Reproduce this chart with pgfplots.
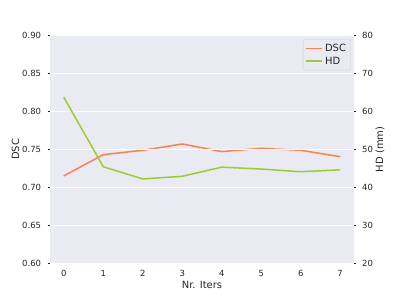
\documentclass[border=0pt]{standalone}
\usepackage{pgfplots}
\pgfplotsset{compat=1.18}
\usepackage{fontspec}
\setmainfont{DejaVu Sans}
\definecolor{bg}{HTML}{EAEAF2}
\definecolor{txt}{HTML}{262626}
\definecolor{dsc}{HTML}{FF7F50}
\definecolor{hd}{HTML}{9ACD32}
\definecolor{legedge}{HTML}{D0D0D6}

\pgfplotsset{
 base/.style={
  scale only axis, width=304bp, height=228bp,
  xmin=-0.35, xmax=7.35,
  axis line style={draw=none},
  tick label style={font=\fontsize{8.5}{10}\selectfont, text=txt},
  label style={font=\fontsize{10}{12}\selectfont, text=txt},
  /pgf/number format/assume math mode=true,
  major tick length=2bp,
  tick align=outside,
  every tick/.style={txt, line width=0.7bp},
  grid style={white, line width=1bp},
 }
}

\begin{document}
\begin{tikzpicture}
\useasboundingbox (-50bp,-32.7bp) rectangle (344bp,263.3bp);
\begin{axis}[base,
  axis background/.style={fill=bg},
  ymin=0.6, ymax=0.9, ytick={0.6,0.65,0.7,0.75,0.8,0.85,0.9},
  yticklabel style={/pgf/number format/fixed, /pgf/number format/fixed zerofill, /pgf/number format/precision=2},
  yticklabel style={anchor=east, inner sep=0pt, xshift=-6.7bp},
  ytick pos=left,
  xtick={0,1,2,3,4,5,6,7}, xtick style={draw=none}, xtick pos=bottom,
  xticklabel style={anchor=center, inner sep=0pt, yshift=-8.3bp},
  ymajorgrids,
  ylabel={DSC},
  ylabel style={at={(axis description cs:0,0.5)}, anchor=center, yshift=34.5bp},
  xlabel={Nr. Iters},
  xlabel style={at={(axis description cs:0.5,0)}, anchor=center, yshift=-21.7bp},
]
\addplot[dsc, line width=1.5bp] coordinates {
(0,0.715) (1,0.743) (2,0.7487) (3,0.757) (4,0.747) (5,0.7513) (6,0.7487) (7,0.7403)};
\end{axis}
\begin{axis}[base,
  ymin=20, ymax=80, ytick={20,30,40,50,60,70,80},
  ytick pos=right, yticklabel pos=right,
  yticklabel style={anchor=west, inner sep=0pt, xshift=6bp},
  hide x axis,
  ymajorgrids,
  ylabel={HD (mm)},
  ylabel style={at={(axis description cs:1,0.5)}, anchor=center, yshift=-26bp},
  legend style={at={(rel axis cs:1,1)}, anchor=north east, xshift=-3.3bp, yshift=-4bp,
    fill=bg, draw=legedge, rounded corners=2bp, font=\fontsize{10}{12}\selectfont,
    text=txt, inner sep=2.5bp, row sep=0pt},
  legend cell align=left,
  legend image code/.code={\draw[#1] (0bp,0bp) -- (16bp,0bp);},
]
\addlegendimage{dsc, line width=1.5bp}
\addlegendentry{DSC}
\addplot[hd, line width=1.5bp] coordinates {
(0,63.7) (1,45.4) (2,42.2) (3,42.9) (4,45.3) (5,44.8) (6,44.1) (7,44.6)};
\addlegendentry{HD}
\end{axis}
\end{tikzpicture}
\end{document}
